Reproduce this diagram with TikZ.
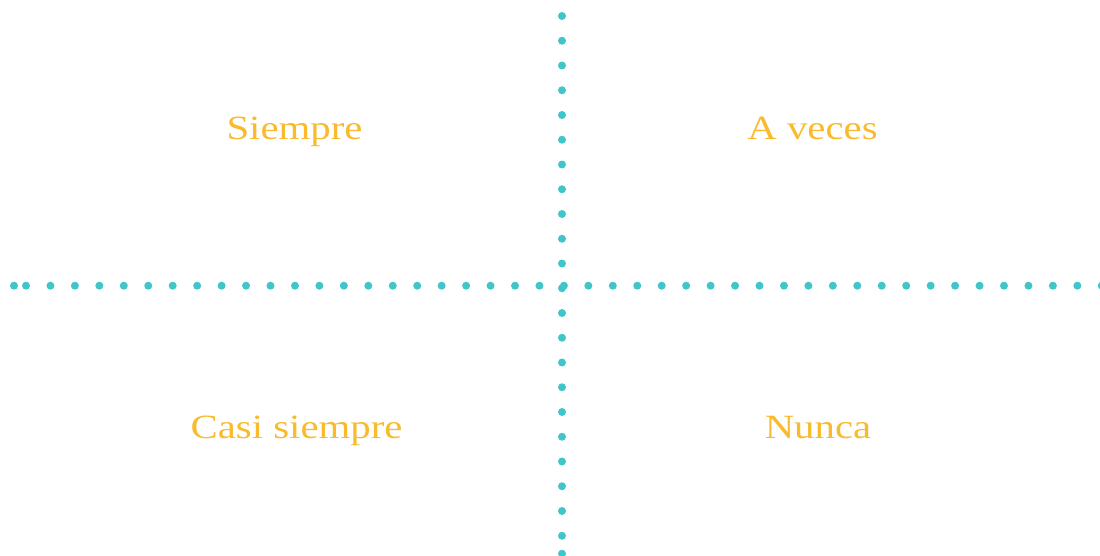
\documentclass[tikz,border=0pt]{standalone}
\usepackage{fontspec}
\setmainfont{Liberation Serif}
\definecolor{dotc}{RGB}{64,197,203}
\definecolor{txtc}{RGB}{249,187,45}
\newcommand{\widetext}[1]{\scalebox{1.2}[1]{#1}}
\begin{document}
\begin{tikzpicture}[x=1pt,y=-1pt,
  dotmark/.style={fill=dotc, draw=none},
  lbl/.style={text=txtc, font=\fontsize{34}{40}\selectfont, anchor=base, inner sep=0pt}]
\useasboundingbox (0,0) rectangle (1100,556);
\clip (0,0) rectangle (1100,556);
% horizontal dotted line
\fill[dotmark] (14,285.7) circle (4pt);
\foreach \i in {0,...,44} \fill[dotmark] ({26+24.45*\i},285.7) circle (4pt);
% vertical dotted line
\foreach \i in {0,...,21} \fill[dotmark] (562,{16+24.75*\i}) circle (4pt);
\fill[dotmark] (562,553.7) circle (4pt);
% labels
\node[lbl] (siempre) at (294.5,140) {\widetext{Siempre}};
\node[lbl] (aveces) at (812.5,140) {\widetext{A veces}};
\node[lbl] (casi) at (296.5,438) {\widetext{Casi siempre}};
\node[lbl] (nunca) at (818,438) {\widetext{Nunca}};
\end{tikzpicture}
\end{document}
